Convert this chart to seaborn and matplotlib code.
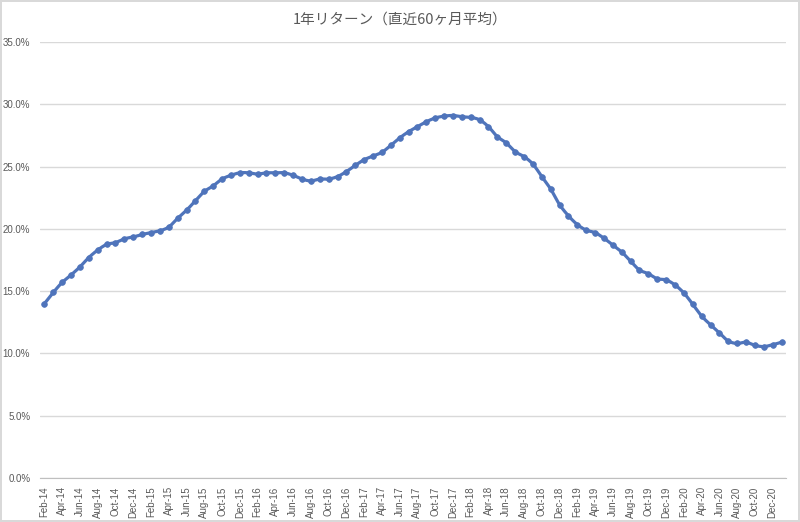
import matplotlib
matplotlib.use("Agg")
import matplotlib.pyplot as plt
import seaborn as sns
import pandas as pd
import numpy as np
from matplotlib.ticker import PercentFormatter, FixedLocator

# Months Feb-14 .. Jan-21
months = pd.date_range("2014-02-01", "2021-01-01", freq="MS").strftime("%b-%y").tolist()

returns = [
    14.0, 14.9, 15.7, 16.3, 16.95, 17.7, 18.3, 18.75, 18.9, 19.2, 19.35, 19.55,
    19.7, 19.85, 20.15, 20.85, 21.5, 22.25, 23.0, 23.45, 24.0, 24.3, 24.5, 24.5,
    24.4, 24.5, 24.5, 24.5, 24.3, 24.0, 23.85, 24.0, 24.0, 24.2, 24.6, 25.1,
    25.55, 25.85, 26.15, 26.7, 27.3, 27.8, 28.2, 28.6, 28.9, 29.05, 29.1, 29.0,
    28.95, 28.75, 28.2, 27.4, 26.9, 26.2, 25.8, 25.2, 24.2, 23.2, 21.95, 21.05,
    20.35, 19.9, 19.7, 19.25, 18.7, 18.15, 17.4, 16.7, 16.4, 16.0, 15.9, 15.5,
    14.85, 13.95, 13.0, 12.3, 11.65, 11.0, 10.8, 10.9, 10.65, 10.55, 10.7, 10.9,
]

title_text = "1年リターン（直近60ヶ月平均）"

df = pd.DataFrame({"pos": np.arange(len(months)), "month": months,
                   "ret": np.array(returns) / 100.0})

# Smoothed line (Catmull-Rom through the data points, like Excel's smoothed line)
def catmull_rom(x, y, n=10):
    xs, ys = [], []
    px = np.concatenate([[2 * x[0] - x[1]], x, [2 * x[-1] - x[-2]]])
    py = np.concatenate([[2 * y[0] - y[1]], y, [2 * y[-1] - y[-2]]])
    t = np.linspace(0, 1, n, endpoint=False)
    for i in range(1, len(px) - 2):
        for arr, out in ((px, xs), (py, ys)):
            p0, p1, p2, p3 = arr[i - 1], arr[i], arr[i + 1], arr[i + 2]
            out.extend(0.5 * ((2 * p1) + (-p0 + p2) * t
                              + (2 * p0 - 5 * p1 + 4 * p2 - p3) * t ** 2
                              + (-p0 + 3 * p1 - 3 * p2 + p3) * t ** 3))
    xs.append(x[-1]); ys.append(y[-1])
    return np.array(xs), np.array(ys)

sx, sy = catmull_rom(df["pos"].to_numpy(float), df["ret"].to_numpy(float))
smooth = pd.DataFrame({"pos": sx, "ret": sy})

sns.set_theme(style="white")
plt.rcParams["font.family"] = ["Noto Sans CJK JP", "DejaVu Sans"]

fig = plt.figure(figsize=(8.0, 5.22), dpi=100)
fig.patch.set_facecolor("white")
fig.patch.set_edgecolor("#D9D9D9")
fig.patch.set_linewidth(1.5)
ax = fig.add_axes([0.05, 0.0843, 0.9325, 0.8352])

color = "#4F74BB"
sns.lineplot(data=smooth, x="pos", y="ret", ax=ax, color=color, linewidth=2.3,
             zorder=3, sort=False)
sns.scatterplot(data=df, x="pos", y="ret", ax=ax, color=color, s=17,
                edgecolor=color, linewidth=0.5, zorder=4)

ax.set_xlim(-0.5, len(months) - 0.5)
ax.set_ylim(0, 0.35)
ax.yaxis.set_major_locator(FixedLocator(np.arange(0, 0.351, 0.05)))
ax.yaxis.set_major_formatter(PercentFormatter(1.0, decimals=1))
ax.grid(axis="y", color="#D9D9D9", linewidth=1.0)
ax.set_axisbelow(True)

tick_pos = list(range(0, len(months), 2))
ax.set_xticks(tick_pos)
ax.set_xticklabels([months[i] for i in tick_pos], rotation=90,
                   fontsize=7, color="#595959", family="Liberation Sans")
ax.set_xticks(np.arange(-0.5, len(months), 2), minor=True)
ax.tick_params(axis="x", which="major", length=0, pad=6)
ax.tick_params(axis="x", which="minor", length=4, color="#BFBFBF", width=0.8)
ax.tick_params(axis="y", length=0, labelsize=7, labelcolor="#595959", pad=7)
for lab in ax.get_yticklabels():
    lab.set_family("Liberation Sans")

for s in ["top", "right", "left"]:
    ax.spines[s].set_visible(False)
ax.spines["bottom"].set_color("#BFBFBF")
ax.spines["bottom"].set_linewidth(0.8)
ax.set_xlabel("")
ax.set_ylabel("")

fig.text(0.5, 0.963, title_text, ha="center", va="center", fontsize=10.5,
         color="#595959")

fig.savefig("out.png", dpi=100)
